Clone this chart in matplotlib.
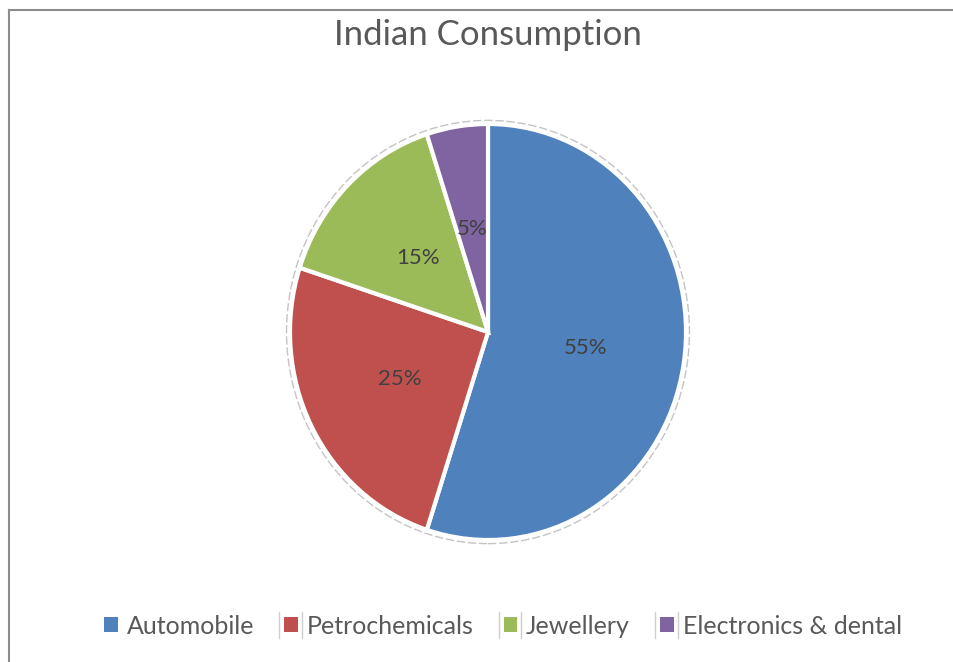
import matplotlib.pyplot as plt
from matplotlib.lines import Line2D
from matplotlib.patches import Ellipse, Patch

plt.rcParams['font.family'] = ['Lato', 'DejaVu Sans']

# Share of Indian consumption by sector (%)
sectors = ['Automobile', 'Petrochemicals', 'Jewellery', 'Electronics & dental']
shares = [55, 25, 15, 5]
colors = ['#4F81BD', '#C0504D', '#9BBB59', '#8064A2']

W, H = 954, 662
fig = plt.figure(figsize=(W / 100, H / 100), dpi=100)

# pie axes sized so the unit circle is 198 px wide and 208 px tall
rx, ry = 198, 208
cx, cy = 488, H - 332
ax = fig.add_axes([(cx - 1.25 * rx) / W, (cy - 1.25 * ry) / H,
                   2.5 * rx / W, 2.5 * ry / H])

wedges, texts, autotexts = ax.pie(
    shares, colors=colors, startangle=90, counterclock=False,
    autopct='%d%%', pctdistance=0.5,
    wedgeprops=dict(edgecolor='white', linewidth=3),
    textprops=dict(color='#404040', fontsize=16))
ax.set_aspect('auto')
ax.set_xlim(-1.25, 1.25)
ax.set_ylim(-1.25, 1.25)

# faint outline just outside the pie
ax.add_patch(Ellipse((0, 0), 2.035, 2.035, fill=False, edgecolor='#c4c4c4',
                     linewidth=1, linestyle=(0, (6, 2))))

fig.text(cx / W, 1 - 35 / H, 'Indian Consumption', ha='center', va='center',
         fontsize=25, color='#595959')

handles = [Patch(facecolor=c, edgecolor='none') for c in colors]
leg = fig.legend(handles, sectors, loc='center', bbox_to_anchor=(503 / W, 1 - 626 / H),
                 ncol=4, frameon=False, fontsize=18, handlelength=0.55, handleheight=0.55,
                 handletextpad=0.35, columnspacing=1.2, labelcolor='#595959')

# thin separators either side of the later legend keys
fig.canvas.draw()
inv = fig.transFigure.inverted()
for patch in leg.get_patches()[1:]:
    bb = patch.get_window_extent().transformed(inv)
    ymid = (bb.y0 + bb.y1) / 2
    for x in (bb.x0 - 5 / W, bb.x1 + 4 / W):
        fig.add_artist(Line2D([x, x], [ymid - 13 / H, ymid + 13 / H],
                              color='#cfcfcf', linewidth=1))

# chart frame: top and left edges only
fig.add_artist(Line2D([9.5 / W, 1], [1 - 9.5 / H, 1 - 9.5 / H], color='#8c8c8c', linewidth=1.5))
fig.add_artist(Line2D([9.5 / W, 9.5 / W], [0, 1 - 9.5 / H], color='#8c8c8c', linewidth=1.5))

fig.savefig('out.png', dpi=100, facecolor='white')
